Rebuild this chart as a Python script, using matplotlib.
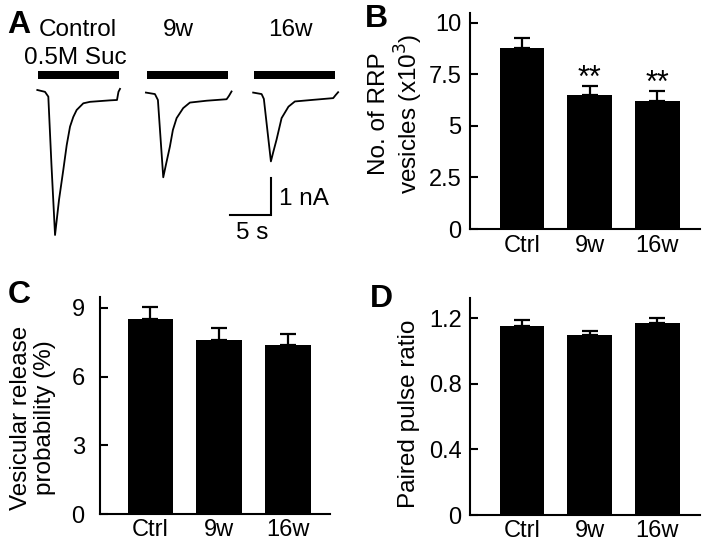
import matplotlib
matplotlib.use("Agg")
import matplotlib.pyplot as plt

plt.rcParams['font.family'] = ['Liberation Sans', 'DejaVu Sans']

W, H = 707, 548

# panel A: sucrose responses, (time s, current nA)
ctrl_t = [0, 0.95, 1.36, 1.75, 2.19, 2.68, 3.21, 3.63, 4.04, 4.44, 4.86, 5.68, 6.51, 7.74, 8.98, 9.84, 10.02, 10.21]
ctrl_i = [0, -0.05, -0.18, -2.03, -3.92, -2.97, -2.16, -1.49, -0.99, -0.73, -0.54, -0.36, -0.32, -0.30, -0.28, -0.27, -0.05, 0.03]
w9_t = [0, 1.11, 1.48, 2.14, 2.47, 2.96, 3.33, 3.79, 4.60, 5.43, 7.49, 9.96, 10.25, 10.57]
w9_i = [0, -0.04, -0.20, -2.29, -1.95, -1.46, -1.01, -0.69, -0.42, -0.27, -0.22, -0.18, -0.09, 0.03]
w16_t = [0, 1.04, 1.32, 2.19, 2.49, 2.89, 3.51, 4.36, 5.15, 7.21, 9.88, 10.21, 10.49]
w16_i = [0, -0.04, -0.17, -1.86, -1.60, -1.27, -0.69, -0.38, -0.24, -0.20, -0.15, -0.06, 0.01]
trace_start = [0, 13.41, 26.65]
trace_base = [0, -0.07, -0.07]
suc_dur = 10

groups = ['Ctrl', '9w', '16w']
rrp_mean = [8.76, 6.50, 6.22]
rrp_err = [0.50, 0.43, 0.48]
pvr_mean = [8.53, 7.60, 7.37]
pvr_err = [0.48, 0.51, 0.47]
ppr_mean = [1.15, 1.10, 1.173]
ppr_err = [0.04, 0.024, 0.027]


def px(x, y):
    return x / W, 1 - y / H


def rect(l, t, r, b):
    return [l / W, 1 - b / H, (r - l) / W, (b - t) / H]


fig = plt.figure(figsize=(W / 100, H / 100), dpi=100)

# ---- A ----
axA = fig.add_axes([0, 1 - 270 / H, 360 / W, 270 / H])
axA.set_xlim(-4.605, 39.84)
axA.set_ylim(-4.865, 2.432)
axA.axis('off')
for (tt, ii), t0, b0 in zip([(ctrl_t, ctrl_i), (w9_t, w9_i), (w16_t, w16_i)], trace_start, trace_base):
    axA.plot([t0 + v for v in tt], [b0 + v for v in ii], color='black', lw=1.3)
    axA.barh(0.405, suc_dur, left=t0 + 0.1, height=0.243, color='black')
axA.plot([23.85, 28.85, 28.85], [-3.38, -3.38, -2.38], color='black', lw=1.5,
         solid_joinstyle='miter')

fs = 17.5
for s, x, y in [('Control', 77.5, 36), ('0.5M Suc', 75.5, 64), ('9w', 178, 36),
                ('16w', 290, 36), ('1 nA', 304, 205), ('5 s', 252.5, 239)]:
    fig.text(*px(x, y), s, ha='center', va='baseline', fontsize=fs)
for s, x, y in [('A', 19, 33), ('B', 376.5, 27), ('C', 19.5, 303), ('D', 381.5, 307)]:
    fig.text(*px(x, y), s, ha='center', va='baseline', fontsize=23, fontweight='bold')


def bars(ax, means, errs, xlim, ylim, ticks, labels, ypad, xpad):
    x = list(range(len(means)))
    ax.bar(x, means, width=0.66, color='black')
    ax.errorbar(x, means, yerr=[[0] * len(errs), errs], fmt='none', ecolor='black',
                elinewidth=1.6, capsize=6, capthick=1.6, clip_on=False)
    ax.set_xlim(*xlim)
    ax.set_ylim(*ylim)
    ax.set_xticks(x)
    ax.set_xticklabels(groups)
    ax.set_yticks(ticks)
    ax.set_yticklabels(labels)
    for sp in ['top', 'right']:
        ax.spines[sp].set_visible(False)
    for sp in ['left', 'bottom']:
        ax.spines[sp].set_linewidth(1.5)
    ax.tick_params(axis='y', direction='in', length=6, width=1.5, pad=ypad, labelsize=17)
    ax.tick_params(axis='x', length=0, pad=xpad, labelsize=17)


axB = fig.add_axes(rect(470, 13.3, 700, 229))
bars(axB, rrp_mean, rrp_err, (-0.77, 2.63), (0, 10.46), [0, 2.5, 5, 7.5, 10],
     ['0', '2.5', '5', '7.5', '10'], 6, 4.5)
for i in [1, 2]:
    axB.text(i, rrp_mean[i] + rrp_err[i] - 0.03, '**', ha='center', va='baseline', fontsize=22)

axC = fig.add_axes(rect(100, 296.7, 330, 514.3))
bars(axC, pvr_mean, pvr_err, (-0.73, 2.61), (0, 9.48), [0, 3, 6, 9],
     ['0', '3', '6', '9'], 11, 3.5)

axD = fig.add_axes(rect(470, 298.3, 700, 515))
bars(axD, ppr_mean, ppr_err, (-0.77, 2.63), (0, 1.322), [0, 0.4, 0.8, 1.2],
     ['0', '0.4', '0.8', '1.2'], 6, 3.5)

fig.text(*px(396.5, 114), 'No. of RRP\nvesicles (x10$^3$)', rotation=90, ha='center',
         va='center', fontsize=17.5, multialignment='center', linespacing=1.1)
fig.text(*px(33, 418), 'Vesicular release\nprobability (%)', rotation=90, ha='center',
         va='center', fontsize=17.5, multialignment='center', linespacing=1.1)
fig.text(*px(409, 413.5), 'Paired pulse ratio', rotation=90, ha='center',
         va='center', fontsize=17.5)

fig.savefig('out.png', dpi=100)
